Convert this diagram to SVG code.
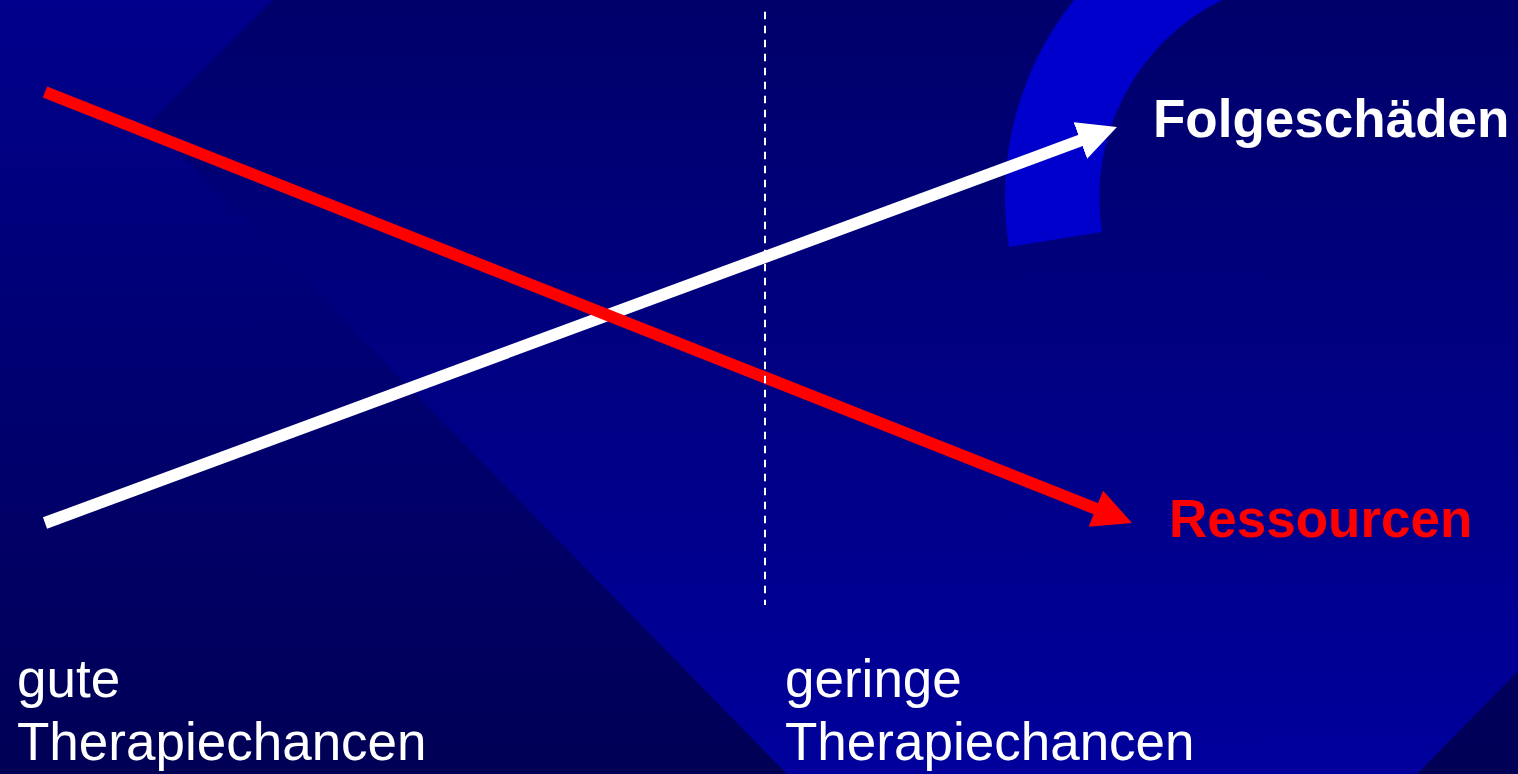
<svg xmlns="http://www.w3.org/2000/svg" width="1518" height="774" viewBox="0 0 1518 774">
  <defs>
    <linearGradient id="bgOuter" gradientUnits="userSpaceOnUse" x1="0" y1="0" x2="0" y2="774">
      <stop offset="0" stop-color="#00008C"/>
      <stop offset="1" stop-color="#000055"/>
    </linearGradient>
    <linearGradient id="bgBand" gradientUnits="userSpaceOnUse" x1="0" y1="0" x2="0" y2="774">
      <stop offset="0" stop-color="#00006A"/>
      <stop offset="1" stop-color="#00009C"/>
    </linearGradient>
    <marker id="headRed" viewBox="0 0 39 39" markerWidth="39" markerHeight="39" markerUnits="userSpaceOnUse" refX="14" refY="19.5" orient="auto">
      <path d="M0,0 L39,19.5 L0,39 Z" fill="#FF0000"/>
    </marker>
    <marker id="headWhite" viewBox="0 0 39 39" markerWidth="39" markerHeight="39" markerUnits="userSpaceOnUse" refX="14" refY="19.5" orient="auto">
      <path d="M0,0 L39,19.5 L0,39 Z" fill="#FFFFFF"/>
    </marker>
    <style>
      .lbl { font-family: "Liberation Sans", Arial, sans-serif; font-size: 53px; }
      .bold { font-weight: bold; }
      .white { fill: #FFFFFF; }
      .red { fill: #FF0000; }
      .conn { fill: none; stroke-width: 12; stroke-linecap: butt; }
    </style>
  </defs>

  <g id="background">
    <rect x="0" y="0" width="1518" height="774" fill="url(#bgOuter)"/>
    <polygon points="273,0 1518,0 1518,671 1417,774 787,774 150,123" fill="url(#bgBand)"/>
    <path d="M1074,0 A315,315 0 0 0 1009,247 L1102,232 A220,220 0 0 1 1222,0 Z" fill="#0000CC"/>
  </g>

  <g id="connectors">
    <line x1="45" y1="523" x2="1093.5" y2="135.7" class="conn" stroke="#FFFFFF" marker-end="url(#headWhite)"/>
    <line x1="45" y1="92" x2="1108.8" y2="513.8" class="conn" stroke="#FF0000" marker-end="url(#headRed)"/>
    <line x1="765" y1="11.7" x2="765" y2="605" fill="none" stroke="#FFFFFF" stroke-width="2" stroke-dasharray="7.5 6.5"/>
  </g>

  <g id="node-folgeschaeden">
    <text x="1153" y="137" class="lbl bold white">Folgeschäden</text>
  </g>
  <g id="node-ressourcen">
    <text x="1169" y="537" class="lbl bold red">Ressourcen</text>
  </g>
  <g id="node-gute">
    <text class="lbl white"><tspan x="17" y="697">gute</tspan><tspan x="17" y="760">Therapiechancen</tspan></text>
  </g>
  <g id="node-geringe">
    <text class="lbl white"><tspan x="785" y="697">geringe</tspan><tspan x="785" y="760">Therapiechancen</tspan></text>
  </g>
</svg>
